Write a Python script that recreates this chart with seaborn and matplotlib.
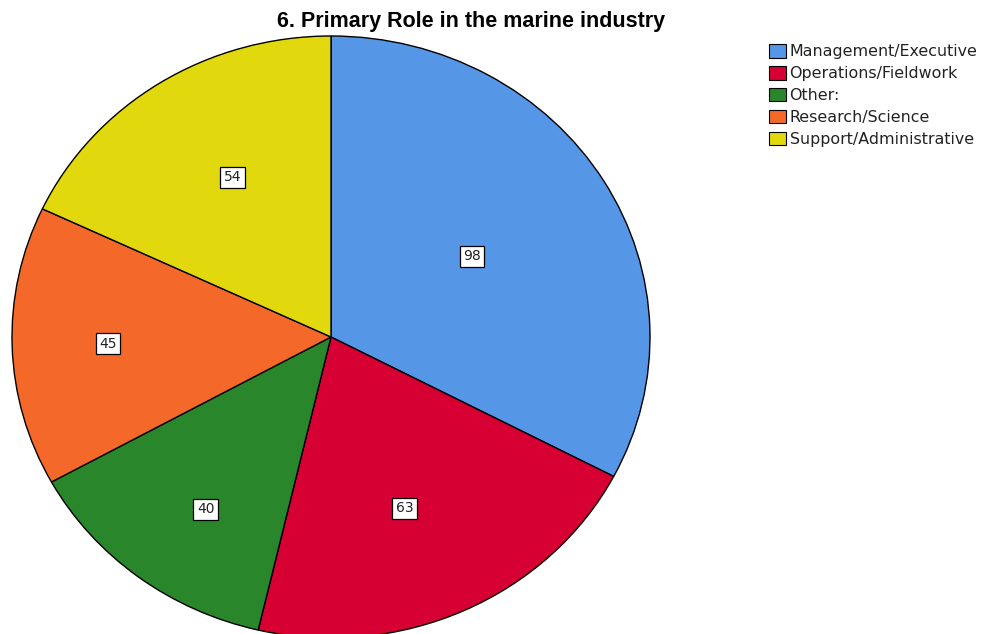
import matplotlib
matplotlib.use("Agg")
import matplotlib.pyplot as plt
import seaborn as sns
import numpy as np

# Survey counts: primary role in the marine industry
roles = ["Management/Executive", "Operations/Fieldwork", "Other:",
         "Research/Science", "Support/Administrative"]
counts = [98, 63, 40, 45, 54]
role_colors = ["#5596E6", "#D60032", "#2A862A", "#F4692A", "#E1D80E"]
title = "6. Primary Role in the marine industry"

sns.set_theme(style="white")
plt.rcParams["font.family"] = ["DejaVu Sans"]

fig = plt.figure(figsize=(9.83, 6.34), dpi=100)
W, H = 983, 634
# pie drawn as an ellipse filling its axes box
ax = fig.add_axes([12 / W, -4 / H, 638 / W, 602 / H])
palette = sns.color_palette(role_colors)

wedges, _ = ax.pie(counts, colors=palette, startangle=90, counterclock=False,
                   wedgeprops=dict(edgecolor="black", linewidth=1.0))
ax.set_aspect("auto")
ax.set_xlim(-1.0, 1.0)
ax.set_ylim(-1.0, 1.0)
ax.axis("off")

# value labels in boxed text: radius and small angular nudge per slice
label_r = [0.517, 0.614, 0.694, 0.699, 0.614]
label_turn = [0.0, -2.5, 2.7, 0.0, -2.2]
total = sum(counts)
start = 90.0
for c, r, turn in zip(counts, label_r, label_turn):
    sweep = c / total * 360.0
    mid = np.deg2rad(start - sweep / 2 + turn)
    start -= sweep
    ax.text(r * np.cos(mid), r * np.sin(mid), str(c), ha="center", va="center",
            fontsize=10, color="#222222",
            bbox=dict(boxstyle="square,pad=0.25", facecolor="white",
                      edgecolor="black", linewidth=0.9))

fig.text(471 / W, 1 - 22 / H, title, ha="center", va="center",
         fontsize=15.5, fontweight="bold", color="black",
         family=["Liberation Sans", "DejaVu Sans"])

leg = fig.legend(wedges, roles, loc="upper left",
                 bbox_to_anchor=(769 / W, 1 - 44 / H), frameon=False,
                 fontsize=11.4, handlelength=1.05, handleheight=0.95,
                 handletextpad=0.25, labelspacing=0.42, borderaxespad=0,
                 borderpad=0)
for h in leg.legend_handles:
    h.set_edgecolor("black")
    h.set_linewidth(0.8)
for t in leg.get_texts():
    t.set_color("#222222")

fig.savefig("out.png", dpi=100)
